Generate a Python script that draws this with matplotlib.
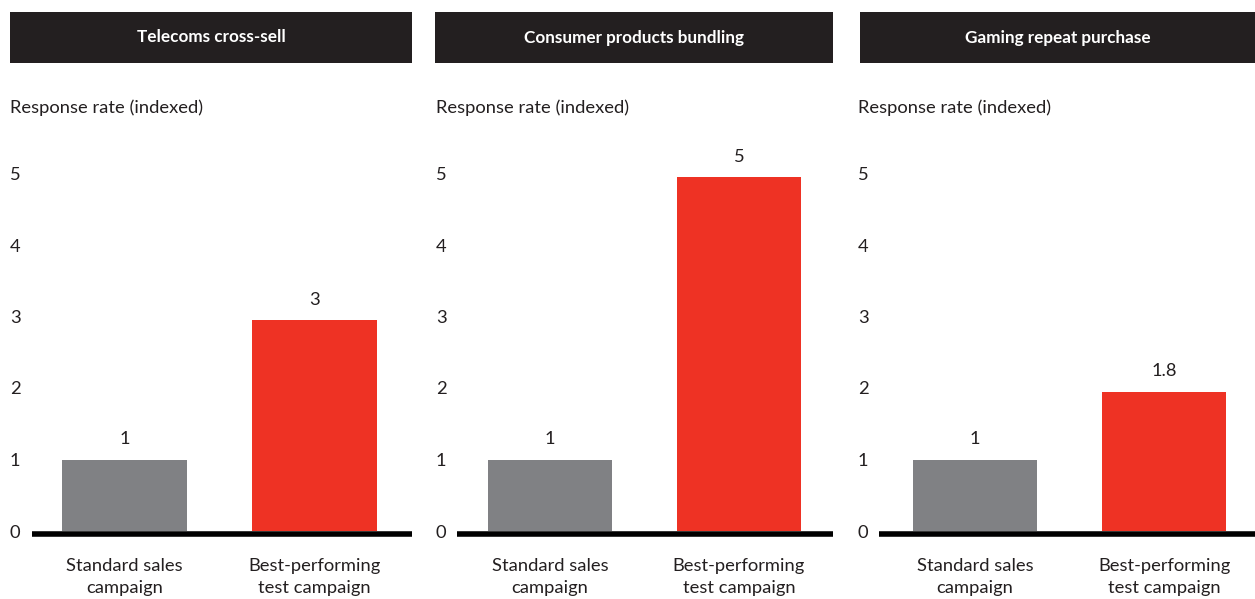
import matplotlib.pyplot as plt
from matplotlib.patches import Rectangle

plt.rcParams["font.family"] = ["Lato", "DejaVu Sans"]

panel_titles = ["Telecoms cross-sell", "Consumer products bundling", "Gaming repeat purchase"]
categories = ["Standard sales\ncampaign", "Best-performing\ntest campaign"]
telecoms = [1, 2.95]
consumer = [1, 4.95]
gaming = [1, 1.95]
value_labels = [["1", "3"], ["1", "5"], ["1", "1.8"]]
y_ticks = [0, 1, 2, 3, 4, 5]
y_label = "Response rate (indexed)"

GRAY = "#808184"
RED = "#ee3224"
DARK = "#231f20"

W, H = 1255, 599


def fx(px):
    return px / W


def fy(py):
    return 1 - py / H


fig = plt.figure(figsize=(12.55, 5.99), dpi=100)

# pixel layout of each panel: header box, axes left/right, label left,
# bar centres and bar width
headers = [(10, 412), (435, 833), (860, 1255)]
axes_x = [(32, 412), (457, 833), (879, 1255)]
label_x = [10, 436, 858]
bar_px = [(124.5, 314.5), (550, 739), (975, 1164)]
bar_w_px = 124.5
series = [telecoms, consumer, gaming]

base_y = 531
px_per_unit = 71.5
ymax = 5.5

for i in range(3):
    h0, h1 = headers[i]
    fig.add_artist(Rectangle((fx(h0), fy(63)), fx(h1 - h0), (63 - 12) / H,
                             transform=fig.transFigure, facecolor=DARK,
                             edgecolor="none"))
    fig.text(fx((h0 + h1) / 2), fy(37.5), panel_titles[i], color="white",
             fontsize=12.3, fontweight="bold", ha="center", va="center")
    fig.text(fx(label_x[i]), fy(108), y_label, color=DARK, fontsize=13.2,
             ha="left", va="center")

    a0, a1 = axes_x[i]
    c0, c1 = bar_px[i]
    step = c1 - c0
    top = base_y - ymax * px_per_unit
    ax = fig.add_axes([fx(a0), fy(base_y), fx(a1 - a0), (base_y - top) / H])
    vals = series[i]
    ax.bar([0, 1], vals, width=bar_w_px / step, color=[GRAY, RED], zorder=2)
    for x, v, lab in zip([0, 1], vals, value_labels[i]):
        ax.annotate(lab, (x, v), xytext=(0, 9), textcoords="offset points",
                    ha="center", va="bottom", fontsize=13.2, color=DARK)
    for x, cat in zip([0, 1], categories):
        ax.annotate(cat, (x, 0), xytext=(0, -19.5), textcoords="offset points",
                    ha="center", va="top", fontsize=13.2, color=DARK,
                    linespacing=1.45, annotation_clip=False)

    ax.set_xlim(-(c0 - a0) / step, 1 + (a1 - c1) / step)
    ax.set_ylim(0, ymax)
    ax.set_yticks(y_ticks)
    ax.set_yticklabels([str(t) for t in y_ticks])
    pad_pt = (a0 - label_x[i]) * 72 / 100
    ax.tick_params(axis="y", length=0, pad=pad_pt, labelsize=13.2,
                   labelcolor=DARK)
    for t in ax.get_yticklabels():
        t.set_ha("left")
    ax.set_xticks([])

    for s in ["top", "right", "left"]:
        ax.spines[s].set_visible(False)
    ax.spines["bottom"].set_linewidth(4)
    ax.spines["bottom"].set_color("black")
    ax.spines["bottom"].set_position(("outward", 2))
    ax.spines["bottom"].set_capstyle("butt")
    ax.patch.set_visible(False)

fig.savefig("out.png", dpi=100)
